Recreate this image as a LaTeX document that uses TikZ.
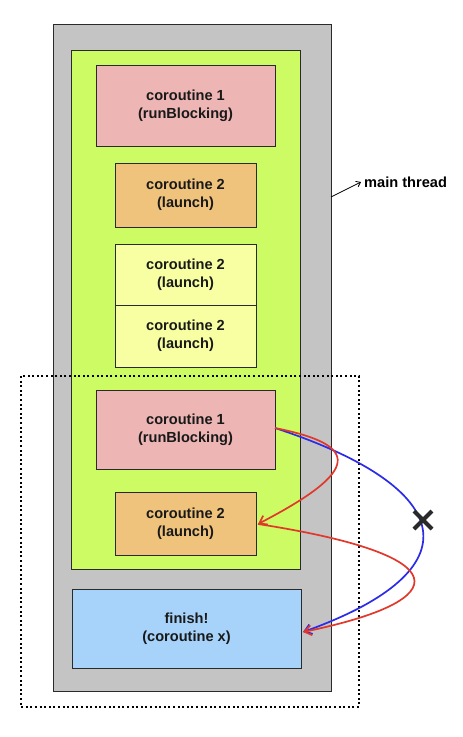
\documentclass[tikz,border=0pt]{standalone}
\usepackage{fontspec}
\setmainfont{Liberation Sans}
\usetikzlibrary{arrows.meta}
\definecolor{cgray}{HTML}{C4C4C4}
\definecolor{cgreen}{HTML}{CCFB64}
\definecolor{cpink}{HTML}{EEB5B5}
\definecolor{corange}{HTML}{EFC37C}
\definecolor{cyellow}{HTML}{F7FFA2}
\definecolor{cblue}{HTML}{A7D3FA}
\definecolor{cred}{HTML}{E2382B}
\definecolor{cblueline}{HTML}{2B2BE8}
\definecolor{cborder}{HTML}{2A2A2A}
\tikzset{
  box/.style={draw=cborder, line width=0.9pt, align=center, inner sep=0pt,
    font=\bfseries\fontsize{14.6}{18}\selectfont, text=black!90},
  flow/.style={line width=1.7pt, -{Straight Barb[length=7pt,width=10pt]}},
}
\begin{document}
\begin{tikzpicture}[x=1pt,y=-1pt]
\useasboundingbox (0,0) rectangle (463,737);
% containers
\node[box, fill=cgray, minimum width=278pt, minimum height=667pt] (thread) at (192,357.5) {};
\node[box, fill=cgreen, minimum width=229pt, minimum height=519pt] (scope) at (185.5,309.5) {};
% boxes
\node[box, fill=cpink, minimum width=179pt, minimum height=81pt] (c1a) at (185.5,105.5) {coroutine 1\\(runBlocking)};
\node[box, fill=corange, minimum width=141pt, minimum height=64pt] (c2a) at (185.5,195) {coroutine 2\\(launch)};
\node[box, fill=cyellow, minimum width=141pt, minimum height=61pt] (c2b) at (185.5,274.5) {coroutine 2\\(launch)};
\node[box, fill=cyellow, minimum width=141pt, minimum height=62pt] (c2c) at (185.5,336) {coroutine 2\\(launch)};
\node[box, fill=cpink, minimum width=179pt, minimum height=79pt] (c1b) at (185.5,429.5) {coroutine 1\\(runBlocking)};
\node[box, fill=corange, minimum width=141pt, minimum height=63pt] (c2d) at (185.5,523.5) {coroutine 2\\(launch)};
\node[box, fill=cblue, minimum width=229pt, minimum height=79pt] (fin) at (186.5,628.5) {finish!\\(coroutine x)};
% dotted frame
\draw[line width=2pt, dash pattern=on 2pt off 2.6pt] (21,376) rectangle (359,707);
% main thread label
\node[anchor=west, font=\bfseries\fontsize{14.6}{16}\selectfont, inner sep=0pt] (mt) at (364,182) {main thread};
\coordinate (mtstart) at (331,197);
\draw[line width=0.8pt, -{Straight Barb[length=4pt,width=6pt]}] (mtstart) -- ([xshift=-3pt]mt.west);
% flows
\coordinate (s1) at (275,428);
\coordinate (e1) at (258,524);
\coordinate (e2) at (303,632);
\draw[flow, cblueline] (s1) .. controls (458,488) and (476,570) .. (e2);
\draw[flow, cred] (s1) .. controls (360,445) and (362,470) .. (e1);
\draw[flow, cred] (e1) .. controls (458,555) and (458,600) .. (e2);
% cross
\coordinate (x) at (423,520);
\draw[line width=4pt, color=cborder] ([shift={(-9,-9)}]x) -- ([shift={(9,9)}]x);
\draw[line width=4pt, color=cborder] ([shift={(-9,9)}]x) -- ([shift={(9,-9)}]x);
\end{tikzpicture}
\end{document}
